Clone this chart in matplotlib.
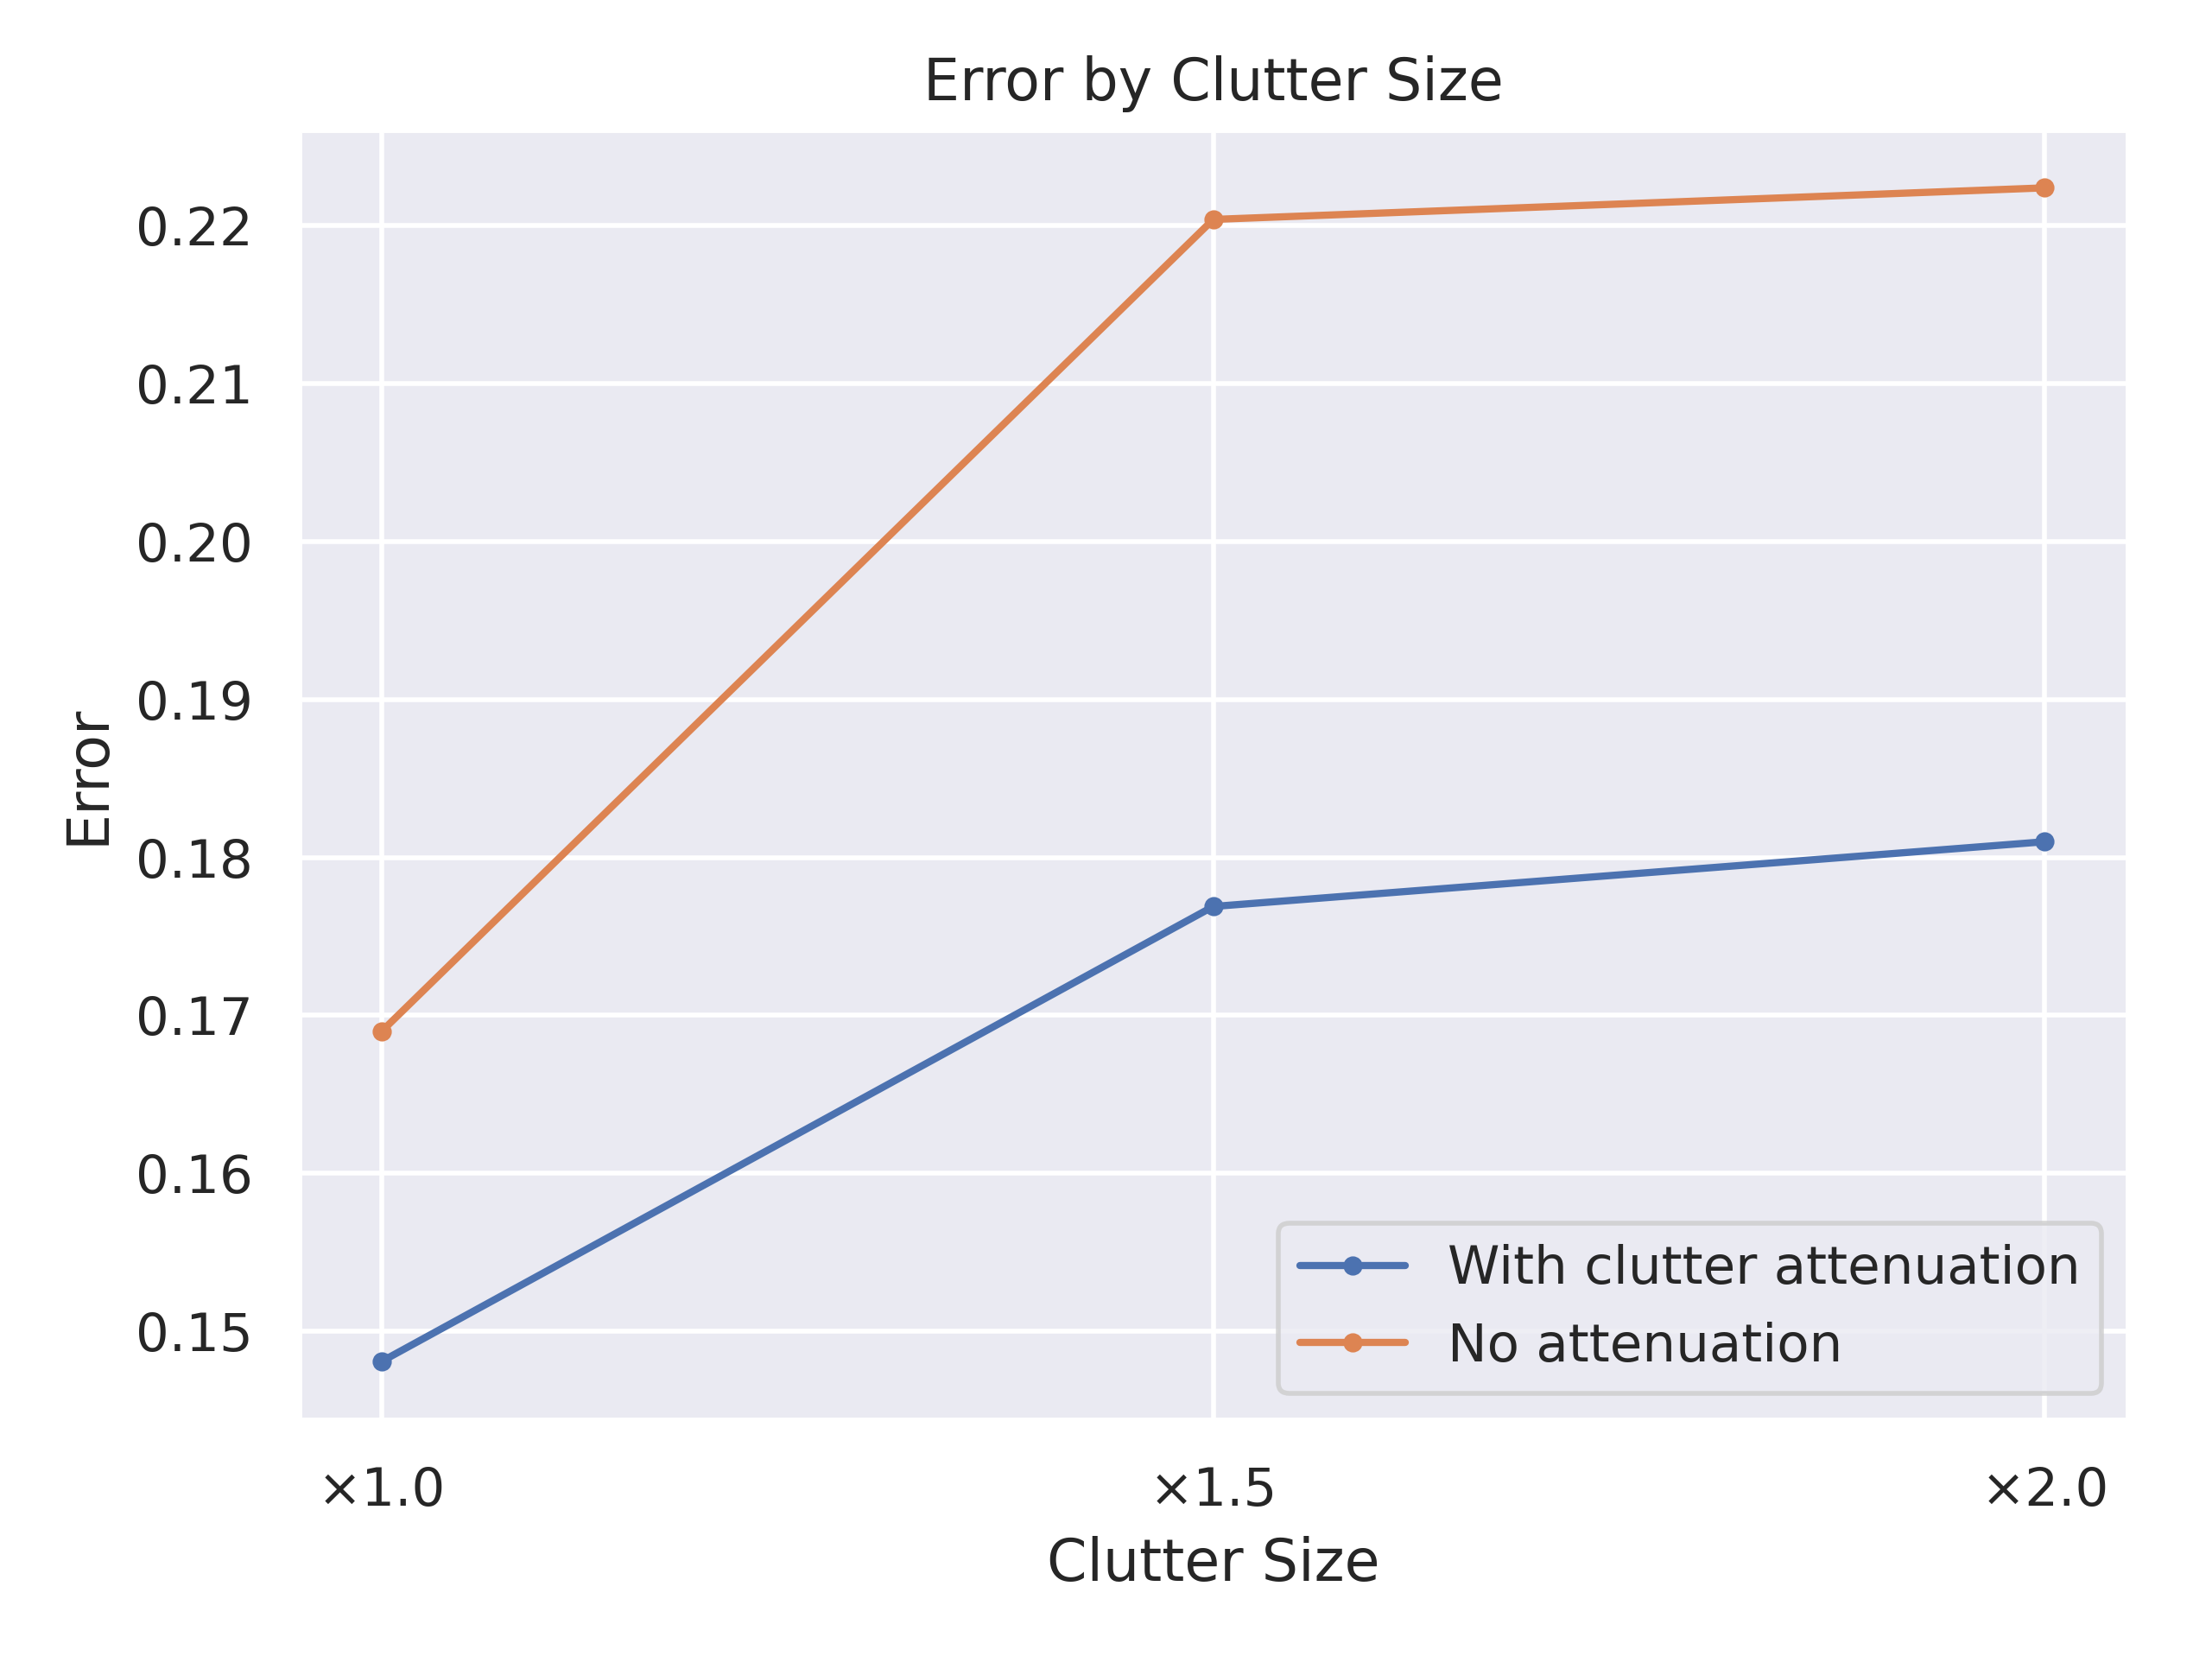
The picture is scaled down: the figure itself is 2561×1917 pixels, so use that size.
import matplotlib
matplotlib.use("Agg")
import matplotlib.pyplot as plt
import seaborn as sns

sns.set_theme(style="darkgrid")

sizes = [1.0, 1.5, 2.0]
tick_labels = ["×1.0", "×1.5", "×2.0"]
with_att = [0.1481, 0.1769, 0.1810]
no_att = [0.1690, 0.2204, 0.2224]

fig, ax = plt.subplots(figsize=(6.4025, 4.7925), dpi=400)
ax.plot(sizes, with_att, marker=".", label="With clutter attenuation")
ax.plot(sizes, no_att, marker=".", label="No attenuation")
ax.set_xticks(sizes)
ax.set_xticklabels(tick_labels)
ax.set_xlabel("Clutter Size")
ax.set_ylabel("Error")
ax.set_title("Error by Clutter Size")
ax.legend(loc="lower right")
fig.subplots_adjust(left=0.135, right=0.962, top=0.922, bottom=0.1425)
fig.savefig("out.png", dpi=400)
